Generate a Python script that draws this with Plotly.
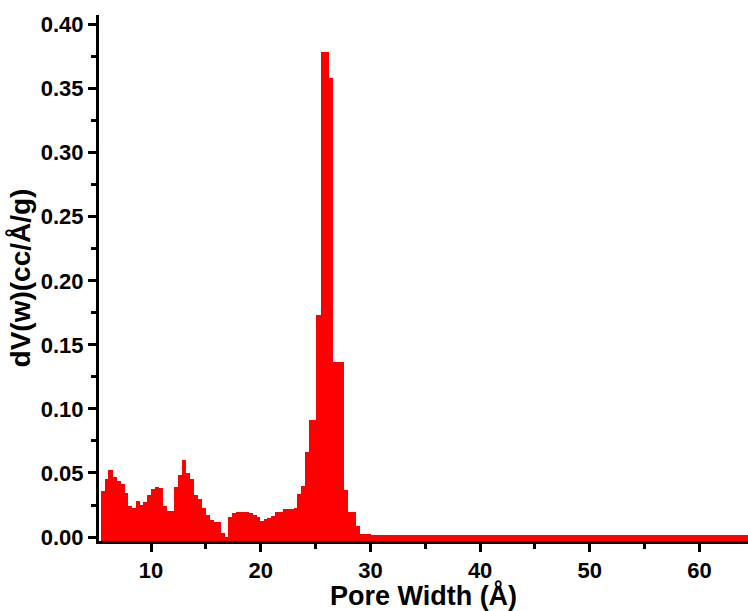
import plotly.graph_objects as go

# Bin edges (pore width, Å) and dV(w) values
bin_edges = [5.44, 5.81, 6.11, 6.51, 6.87, 7.24, 7.60, 7.93, 8.30, 8.61, 8.97,
             9.30, 9.66, 10.00, 10.37, 10.73, 11.09, 11.46, 11.78, 12.10, 12.46,
             12.83, 13.19, 13.56, 13.92, 14.28, 14.65, 15.01, 15.38, 15.74, 16.06,
             16.38, 16.75, 17.05, 17.41, 17.75, 18.11, 18.48, 18.93, 19.30, 19.66,
             19.94, 20.30, 20.57, 20.94, 21.30, 21.67, 22.03, 22.40, 22.67, 23.04,
             23.34, 23.70, 24.07, 24.43, 25.04, 25.47, 26.25, 26.56, 27.62, 27.99,
             28.72, 29.05, 30.06, 32.0, 34.0, 36.0, 38.0, 40.0, 42.0, 44.0, 46.0,
             48.0, 50.0, 52.0, 54.0, 56.0, 58.0, 60.0, 62.0, 64.0, 65.0]
dv_values = [0.0360, 0.0450, 0.0520, 0.0470, 0.0440, 0.0415, 0.0340, 0.0244,
             0.0223, 0.0278, 0.0249, 0.0275, 0.0332, 0.0374, 0.0392, 0.0381,
             0.0244, 0.0205, 0.0202, 0.0389, 0.0488, 0.0599, 0.0496, 0.0454,
             0.0327, 0.0293, 0.0223, 0.0169, 0.0132, 0.0120, 0.0116, 0.0034,
             0.0004, 0.0158, 0.0190, 0.0195, 0.0197, 0.0195, 0.0187, 0.0171,
             0.0156, 0.0127, 0.0143, 0.0150, 0.0163, 0.0192, 0.0197, 0.0215,
             0.0218, 0.0222, 0.0224, 0.0336, 0.0400, 0.0664, 0.0917, 0.1735,
             0.3790, 0.3580, 0.1370, 0.0366, 0.0197, 0.0087, 0.0023, 0.0015,
             0.0014, 0.0014, 0.0015, 0.0016, 0.0016, 0.0015, 0.0016, 0.0016,
             0.0015, 0.0015, 0.0016, 0.0015, 0.0014, 0.0014, 0.0013, 0.0013,
             0.0012]

x_ticks = [10, 20, 30, 40, 50, 60]
y_ticks = [0.00, 0.05, 0.10, 0.15, 0.20, 0.25, 0.30, 0.35, 0.40]

X_RANGE = [5.26, 64.42]
Y_RANGE = [-0.0031, 0.4075]

centers = [(bin_edges[i] + bin_edges[i + 1]) / 2 for i in range(len(dv_values))]
widths = [bin_edges[i + 1] - bin_edges[i] for i in range(len(dv_values))]
heights = [v - Y_RANGE[0] for v in dv_values]

fig = go.Figure(go.Bar(
    x=centers, y=heights, width=widths, base=Y_RANGE[0],
    marker=dict(color="#FF0000", line=dict(width=0)),
    hovertext=[f"{v:.4f}" for v in dv_values],
))

font_family = "Liberation Sans, Arial, sans-serif"
TICK_SIZE = 22
TITLE_SIZE = 27
fig.update_layout(
    width=748, height=611,
    margin=dict(l=99, r=0, t=15, b=70),
    paper_bgcolor="white", plot_bgcolor="white",
    bargap=0, showlegend=False,
    font=dict(family=font_family, color="black"),
)
fig.update_xaxes(
    range=X_RANGE, tickvals=x_ticks, ticktext=[str(t) for t in x_ticks],
    showline=True, linecolor="black", linewidth=3, mirror=False,
    ticks="outside", ticklen=8, tickwidth=3, tickcolor="black",
    minor=dict(dtick=5, tick0=0, ticks="outside", ticklen=5, tickwidth=3, tickcolor="black"),
    tickfont=dict(size=TICK_SIZE, family=font_family, weight="bold"),
    title=dict(text="Pore Width (Å)", font=dict(size=TITLE_SIZE, family=font_family, weight="bold"), standoff=8),
    showgrid=False, zeroline=False, automargin=False,
)
fig.update_yaxes(
    range=Y_RANGE, tickvals=y_ticks, ticktext=[f"{t:.2f}" for t in y_ticks],
    showline=True, linecolor="black", linewidth=3, mirror=False,
    ticks="outside", ticklen=8, tickwidth=3, tickcolor="black",
    minor=dict(dtick=0.025, tick0=0, ticks="outside", ticklen=5, tickwidth=3, tickcolor="black"),
    tickfont=dict(size=TICK_SIZE, family=font_family, weight="bold"),
    title=dict(text="dV(w)(cc/Å/g)", font=dict(size=TITLE_SIZE + 1, family=font_family, weight="bold"), standoff=2),
    showgrid=False, zeroline=False, automargin=False,
)

# remove the default page margin so the 748x611 figure fills the window exactly
fig.write_html(
    "out.html",
    config={"displayModeBar": False},
    post_script="document.body.style.margin='0';document.body.style.overflow='hidden';",
)
